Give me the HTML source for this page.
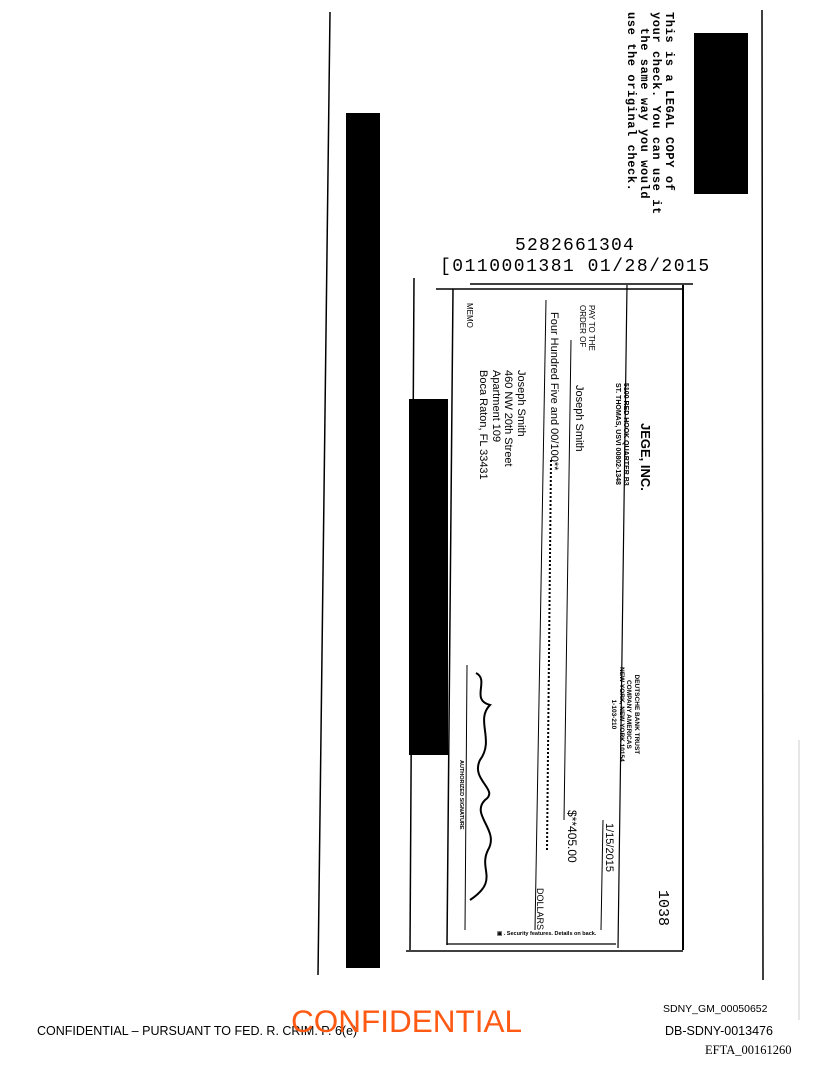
<!DOCTYPE html>
<html><head><meta charset="utf-8"><style>
html,body{margin:0;padding:0;background:#fff;}
body{width:816px;height:1073px;position:relative;overflow:hidden;font-family:"Liberation Sans",sans-serif;color:#000;}
.a{position:absolute;}
.r{position:absolute;transform:rotate(90deg);transform-origin:0 0;white-space:nowrap;line-height:1;}
.b{position:absolute;background:#000;}
</style></head><body>
<svg class="a" style="left:0;top:0" width="816" height="1073">
<line x1="330" y1="12" x2="318" y2="975" stroke="#000" stroke-width="1.5"/>
<line x1="762" y1="10" x2="763" y2="980" stroke="#000" stroke-width="1.5"/>
<line x1="799" y1="740" x2="799" y2="1020" stroke="#ccc" stroke-width="1"/>
<line x1="470" y1="284" x2="693" y2="284" stroke="#000" stroke-width="1.5"/>
<line x1="436" y1="289" x2="683" y2="289" stroke="#000" stroke-width="1.5"/>
<line x1="453" y1="289" x2="447" y2="945" stroke="#000" stroke-width="1.5"/>
<line x1="414" y1="278" x2="410" y2="950" stroke="#000" stroke-width="1.5"/>
<line x1="683" y1="285" x2="683" y2="950" stroke="#000" stroke-width="2"/>
<line x1="627" y1="285" x2="618" y2="948" stroke="#000" stroke-width="1.2"/>
<line x1="447" y1="944" x2="616" y2="944" stroke="#000" stroke-width="1.2"/>
<line x1="406" y1="951" x2="683" y2="951" stroke="#000" stroke-width="1.5"/>
<line x1="571" y1="340" x2="564" y2="820" stroke="#000" stroke-width="1"/>
<line x1="546" y1="300" x2="535" y2="930" stroke="#000" stroke-width="1"/>
<line x1="603" y1="820" x2="601" y2="930" stroke="#000" stroke-width="1"/>
<line x1="467" y1="665" x2="465" y2="930" stroke="#000" stroke-width="1"/>
<line x1="551" y1="460" x2="547" y2="850" stroke="#000" stroke-width="2" stroke-dasharray="2,2"/>
<path d="M476,673 C490,680 470,700 490,705 C475,720 495,740 480,760 C470,780 500,790 485,800 C470,815 500,830 488,850 C478,870 500,880 470,900" fill="none" stroke="#000" stroke-width="2"/>
</svg>
<div class="b" style="left:346px;top:113px;width:34px;height:855px"></div>
<div class="b" style="left:694px;top:33px;width:54px;height:161px"></div>
<div class="b" style="left:409px;top:399px;width:39px;height:356px"></div>

<div class="r" style="left:675px;top:12px;font-family:'Liberation Mono',monospace;font-size:12px;font-weight:bold;line-height:12.5px;letter-spacing:0.6px">This is a LEGAL COPY of<br>your check. You can use it<br>&nbsp; the same way you would<br>use the original check.</div>

<div class="a" style="left:515px;top:236px;font-family:'Liberation Mono',monospace;font-size:18px;line-height:20px;letter-spacing:1.2px">5282661304</div>
<div class="a" style="left:440px;top:257px;font-family:'Liberation Mono',monospace;font-size:18px;line-height:20px;letter-spacing:1.5px">[0110001381 01/28/2015</div>

<div class="r" style="left:652px;top:423px;font-size:13px;font-weight:bold">JEGE, INC.</div>
<div class="r" style="left:629px;top:383px;font-size:7px;font-weight:bold;line-height:8px">5100 RED HOOK QUARTER B3<br>ST. THOMAS, USVI 00802-1348</div>
<div class="r" style="left:596px;top:305px;font-size:8px;line-height:9px">PAY TO THE<br>ORDER OF</div>
<div class="r" style="left:584px;top:385px;font-size:11px">Joseph Smith</div>
<div class="r" style="left:559px;top:312px;font-size:11px">Four Hundred Five and 00/100**</div>
<div class="r" style="left:473px;top:303px;font-size:8px">MEMO</div>
<div class="r" style="left:527px;top:370px;font-size:11px;line-height:12.5px">Joseph Smith<br>460 NW 20th Street<br>Apartment 109<br>Boca Raton, FL 33431</div>
<div class="r" style="left:640px;top:667px;font-size:6.5px;font-weight:bold;line-height:7.5px;text-align:center">DEUTSCHE BANK TRUST<br>COMPANY AMERICAS<br>NEW YORK, NEW YORK 10154<br>1-103-210</div>
<div class="r" style="left:614px;top:823px;font-size:11px">1/15/2015</div>
<div class="r" style="left:578px;top:810px;font-size:12px">$**405.00</div>
<div class="r" style="left:544px;top:888px;font-size:9px">DOLLARS</div>
<div class="r" style="left:670px;top:890px;font-family:'Liberation Mono',monospace;font-size:15px">1038</div>
<div class="r" style="left:463px;top:760px;font-size:5.5px;font-weight:bold">AUTHORIZED SIGNATURE</div>
<div class="a" style="left:497px;top:931px;font-size:5.5px;font-weight:bold">▣ . Security features. Details on back.</div>

<div class="a" style="left:663px;top:1003px;font-size:10.5px">SDNY_GM_00050652</div>
<div class="a" style="left:37px;top:1024px;font-size:12.5px">CONFIDENTIAL – PURSUANT TO FED. R. CRIM. P. 6(e)</div>
<div class="a" style="left:291px;top:1003px;font-size:31.5px;color:#ff5a14;line-height:36px">CONFIDENTIAL</div>
<div class="a" style="left:665px;top:1024px;font-size:12.5px">DB-SDNY-0013476</div>
<div class="a" style="left:705px;top:1043px;font-family:'Liberation Serif',serif;font-size:12.5px">EFTA_00161260</div>
</body></html>
